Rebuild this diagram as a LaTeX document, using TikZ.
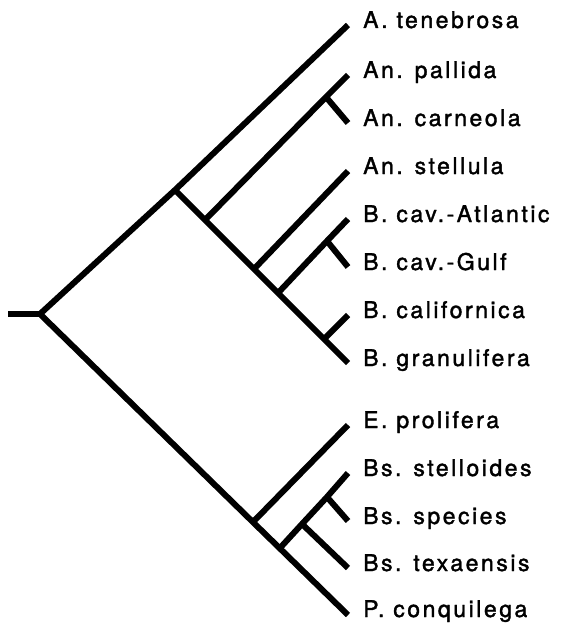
\documentclass[tikz,border=0pt]{standalone}
\usepackage{fontspec}
\setmainfont[LetterSpace=11,FakeBold=1.6]{TeX Gyre Heros}
\begin{document}
\begin{tikzpicture}[x=1pt,y=-1pt,
  br/.style={line width=6pt, line cap=butt, line join=miter},
  lab/.style={anchor=base west, inner sep=0pt, font=\fontsize{23}{27}\selectfont}]
\useasboundingbox (0,0) rectangle (563,623);
% internal points
\coordinate (stub) at (8,314);
\coordinate (R) at (40,314);
\coordinate (N1) at (175,190);
\coordinate (N2) at (205,220);
\coordinate (N3) at (326,97);
\coordinate (N4) at (254,269);
\coordinate (N5) at (278,293);
\coordinate (N6) at (327,241);
\coordinate (N7) at (324,339);
\coordinate (E) at (253,522);
\coordinate (B1) at (280,548);
\coordinate (B2) at (302,524);
\coordinate (B3) at (327,497);
% tips
\coordinate (t1) at (348,25);
\coordinate (t2) at (348,75);
\coordinate (t3) at (348,123);
\coordinate (t4) at (348,171);
\coordinate (t5) at (348,219);
\coordinate (t6) at (348,267);
\coordinate (t7) at (348,315);
\coordinate (t8) at (348,363);
\coordinate (t9) at (348,425);
\coordinate (t10) at (348,473);
\coordinate (t11) at (348,521);
\coordinate (t12) at (348,568);
\coordinate (t13) at (348,615);
% labels
\node[lab] (l1) at (363,28) {A. tenebrosa};
\node[lab] (l2) at (363,78) {An. pallida};
\node[lab] (l3) at (363,126) {An. carneola};
\node[lab] (l4) at (363,174) {An. stellula};
\node[lab] (l5) at (363,222) {B. cav.-Atlantic};
\node[lab] (l6) at (363,270) {B. cav.-Gulf};
\node[lab] (l7) at (363,318) {B. californica};
\node[lab] (l8) at (363,366) {B. granulifera};
\node[lab] (l9) at (363,428) {E. prolifera};
\node[lab] (l10) at (363,476) {Bs. stelloides};
\node[lab] (l11) at (363,524) {Bs. species};
\node[lab] (l12) at (363,571) {Bs. texaensis};
\node[lab] (l13) at (363,617) {P. conquilega};
% branches
\draw[br] (stub) -- (R);
\draw[br] (t13) -- (R) -- (N1) -- (t1);
\draw[br] (N1) -- (N2) -- (N4) -- (N5) -- (N7) -- (t8);
\draw[br] (N2) -- (N3) -- (t2);
\draw[br] (N3) -- (t3);
\draw[br] (N4) -- (t4);
\draw[br] (N5) -- (N6) -- (t5);
\draw[br] (N6) -- (t6);
\draw[br] (N7) -- (t7);
\draw[br] (E) -- (t9);
\draw[br] (B1) -- (B2) -- (B3) -- (t10);
\draw[br] (B3) -- (t11);
\draw[br] (B2) -- (t12);
\end{tikzpicture}
\end{document}
